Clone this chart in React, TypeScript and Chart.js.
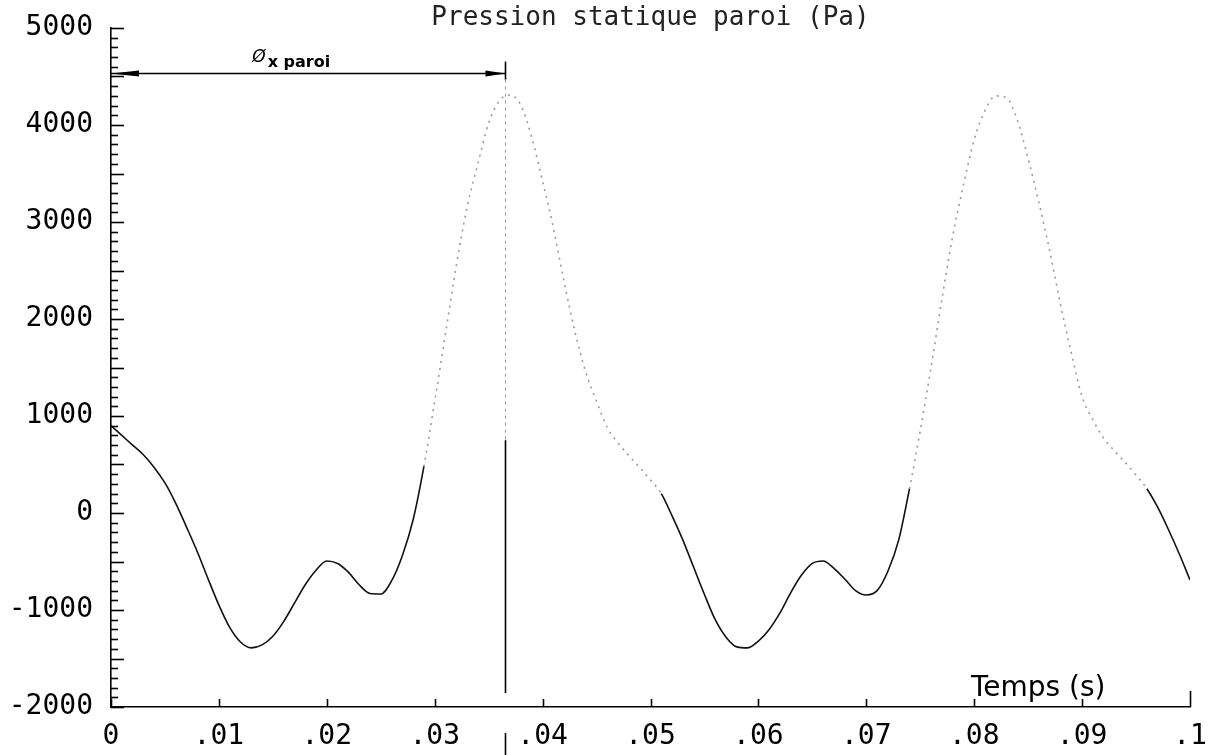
import React, { useEffect, useRef } from "react";
import { Chart, registerables } from "chart.js";

Chart.register(...registerables);

// ---- data ----
const times = [
  0, 0.001, 0.002, 0.003, 0.004, 0.005, 0.006, 0.007, 0.008, 0.009,
  0.01, 0.011, 0.012, 0.013, 0.014, 0.015, 0.016, 0.017, 0.018, 0.019,
  0.02, 0.021, 0.022, 0.023, 0.024, 0.025, 0.026, 0.027, 0.028, 0.029,
  0.03, 0.031, 0.032, 0.033, 0.034, 0.035, 0.036, 0.037, 0.038, 0.039,
  0.04, 0.041, 0.042, 0.043, 0.044, 0.045, 0.046, 0.047, 0.048, 0.049,
  0.05, 0.051, 0.052, 0.053, 0.054, 0.055, 0.056, 0.057, 0.058, 0.059,
  0.06, 0.061, 0.062, 0.063, 0.064, 0.065, 0.066, 0.067, 0.068, 0.069,
  0.07, 0.071, 0.072, 0.073, 0.074, 0.075, 0.076, 0.077, 0.078, 0.079,
  0.08, 0.081, 0.082, 0.083, 0.084, 0.085, 0.086, 0.087, 0.088, 0.089,
  0.09, 0.091, 0.092, 0.093, 0.094, 0.095, 0.096, 0.097, 0.098, 0.099,
  0.1,
];

const pressure = [
  900, 800, 700, 600, 470, 310, 100, -145, -400, -680,
  -950, -1180, -1330, -1390, -1360, -1270, -1120, -930, -740, -590,
  -495, -520, -610, -740, -830, -835, -700, -440, -70, 480,
  1150, 1850, 2550, 3150, 3600, 4020, 4250, 4310, 4200, 3870,
  3420, 2940, 2380, 1870, 1450, 1150, 880, 720, 590, 470,
  340, 200, -30, -280, -560, -840, -1100, -1280, -1380, -1390,
  -1320, -1200, -1030, -820, -640, -520, -495, -570, -680, -800,
  -845, -800, -600, -280, 250, 850, 1500, 2200, 2850, 3380,
  3850, 4150, 4300, 4280, 4050, 3650, 3200, 2700, 2150, 1650,
  1200, 960, 770, 640, 520, 390, 250, 60, -170, -420,
  -690,
];

const xTickValues = [0, 0.01, 0.02, 0.03, 0.04, 0.05, 0.06, 0.07, 0.08, 0.09, 0.1];
const xTickLabels = ["0", ".01", ".02", ".03", ".04", ".05", ".06", ".07", ".08", ".09", ".1"];
const yTickValues = [-2000, -1000, 0, 1000, 2000, 3000, 4000, 5000];
const yTickLabels = ["-2000", "-1000", "0", "1000", "2000", "3000", "4000", "5000"];

const titleText = "Pression statique paroi (Pa)";
const xAxisTitle = "Temps (s)";
const spanSymbol = "Ø";
const spanText = "x paroi";
const markerTime = 0.0365;
const markerLevel = 4530;

const X_MIN = 0;
const X_MAX = 0.1;
const Y_MIN = -2000;
const Y_MAX = 5000;
const Y_MINOR_STEP = 100;
const Y_MAJOR_STEP = 500;

const MONO = '"DejaVu Sans Mono", monospace';
const SANS = '"DejaVu Sans", sans-serif';

const zeroPadding = (scale: any) => {
  scale.paddingTop = 0;
  scale.paddingBottom = 0;
  scale.paddingLeft = 0;
  scale.paddingRight = 0;
};

const decorPlugin = {
  id: "decor",
  afterDraw(chart: any) {
    const { ctx, chartArea, scales } = chart;
    const xs = scales.x;
    const ys = scales.y;
    const { left, right, bottom } = chartArea;
    ctx.save();
    ctx.strokeStyle = "#000";
    ctx.fillStyle = "#000";

    // y minor/major ticks (inside)
    ctx.lineWidth = 1.6;
    for (let v = Y_MIN; v <= Y_MAX; v += Y_MINOR_STEP) {
      const y = Math.round(ys.getPixelForValue(v)) + 0.5;
      const len = v % Y_MAJOR_STEP === 0 ? 13 : 7;
      ctx.beginPath();
      ctx.moveTo(left, y);
      ctx.lineTo(left + len, y);
      ctx.stroke();
    }

    // x ticks (inside, upwards)
    xTickValues.forEach((v, i) => {
      const x = Math.round(xs.getPixelForValue(v)) + 0.5;
      const len = i === xTickValues.length - 1 ? 16 : 8;
      ctx.beginPath();
      ctx.moveTo(x, bottom);
      ctx.lineTo(x, bottom - len);
      ctx.stroke();
    });

    // title
    ctx.font = `26px ${MONO}`;
    ctx.textAlign = "center";
    ctx.textBaseline = "alphabetic";
    ctx.fillStyle = "#222";
    ctx.fillText(titleText, (left + right) / 2, 25);
    ctx.fillStyle = "#000";

    // x axis title
    ctx.font = `28px ${SANS}`;
    ctx.textAlign = "left";
    ctx.fillText(xAxisTitle, xs.getPixelForValue(0.0797), bottom - 11);

    // vertical marker line
    const mx = Math.round(xs.getPixelForValue(markerTime)) + 0.5;
    const my = ys.getPixelForValue(markerLevel);
    ctx.lineWidth = 1.6;
    ctx.beginPath();
    ctx.moveTo(mx, my - 12);
    ctx.lineTo(mx, my + 6);
    ctx.stroke();
    ctx.save();
    ctx.strokeStyle = "#999";
    ctx.lineWidth = 1;
    ctx.setLineDash([3, 4]);
    ctx.beginPath();
    ctx.moveTo(mx, my + 6);
    ctx.lineTo(mx, ys.getPixelForValue(750));
    ctx.stroke();
    ctx.restore();
    ctx.beginPath();
    ctx.moveTo(mx, ys.getPixelForValue(750));
    ctx.lineTo(mx, bottom - 14);
    ctx.stroke();
    ctx.beginPath();
    ctx.moveTo(mx, bottom + 26);
    ctx.lineTo(mx, bottom + 48);
    ctx.stroke();

    // horizontal double arrow
    ctx.lineWidth = 1.5;
    ctx.beginPath();
    ctx.moveTo(left, my);
    ctx.lineTo(mx, my);
    ctx.stroke();
    ctx.beginPath();
    ctx.moveTo(left, my);
    ctx.lineTo(left + 28, my - 3);
    ctx.lineTo(left + 28, my + 3);
    ctx.closePath();
    ctx.fill();
    ctx.beginPath();
    ctx.moveTo(mx, my);
    ctx.lineTo(mx - 20, my - 3);
    ctx.lineTo(mx - 20, my + 3);
    ctx.closePath();
    ctx.fill();

    // span label
    const lx = xs.getPixelForValue(0.0131);
    ctx.textAlign = "left";
    ctx.font = `italic 17px ${SANS}`;
    ctx.fillText(spanSymbol, lx, my - 12);
    const sw = ctx.measureText(spanSymbol).width;
    ctx.font = `bold 16px ${SANS}`;
    ctx.fillText(spanText, lx + sw + 2, my - 7);

    ctx.restore();
  },
};

export default function App() {
  const canvasRef = useRef<HTMLCanvasElement | null>(null);

  useEffect(() => {
    if (!canvasRef.current) return;
    const points = times.map((t, i) => ({ x: t, y: pressure[i] }));
    const isFaint = (c: any) =>
      c.p0.parsed.y > 150 && c.p1.parsed.y > 150 && c.p0.parsed.x > 0.01;
    const chart = new Chart(canvasRef.current, {
      type: "line",
      data: {
        datasets: [
          {
            data: points,
            borderColor: "#111",
            borderWidth: 1.6,
            pointRadius: 0,
            cubicInterpolationMode: "monotone",
            fill: false,
            segment: {
              borderColor: (c: any) => (isFaint(c) ? "rgba(0,0,0,0.4)" : "#111"),
              borderDash: (c: any) => (isFaint(c) ? [2, 5] : []),
            },
          } as any,
        ],
      },
      options: {
        animation: false,
        responsive: false,
        devicePixelRatio: 1,
        layout: { padding: { top: 28, right: 19, left: 0, bottom: 0 } },
        plugins: {
          legend: { display: false },
          tooltip: { enabled: false },
          title: { display: false },
        },
        scales: {
          x: {
            type: "linear",
            min: X_MIN,
            max: X_MAX,
            afterBuildTicks: (scale: any) => {
              scale.ticks = xTickValues.map((v) => ({ value: v }));
            },
            afterFit: (scale: any) => {
              scale.height = 48;
              zeroPadding(scale);
            },
            ticks: {
              autoSkip: false,
              maxRotation: 0,
              padding: 13,
              color: "#000",
              font: { family: MONO, size: 28 },
              callback: (_v: any, i: number) => xTickLabels[i],
            },
            grid: { display: false, drawTicks: false },
            border: { display: true, color: "#000", width: 1.6 },
          },
          y: {
            type: "linear",
            min: Y_MIN,
            max: Y_MAX,
            afterBuildTicks: (scale: any) => {
              scale.ticks = yTickValues.map((v) => ({ value: v }));
            },
            afterFit: (scale: any) => {
              scale.width = 111;
              zeroPadding(scale);
            },
            ticks: {
              autoSkip: false,
              padding: 18,
              color: "#000",
              font: { family: MONO, size: 28 },
              callback: (_v: any, i: number) => yTickLabels[i],
            },
            grid: { display: false, drawTicks: false },
            border: { display: true, color: "#000", width: 1.6 },
          },
        },
      },
      plugins: [decorPlugin],
    } as any);
    return () => chart.destroy();
  }, []);

  return (
    <div
      style={{
        position: "fixed",
        left: 0,
        top: 0,
        width: 1209,
        height: 755,
        background: "#fff",
      }}
    >
      <canvas ref={canvasRef} width={1209} height={755} />
    </div>
  );
}
